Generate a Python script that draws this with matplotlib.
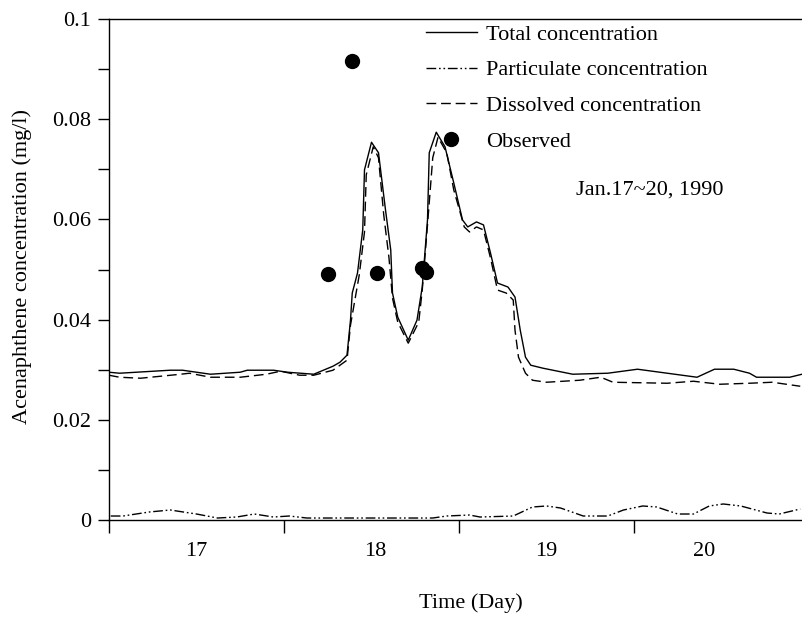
import matplotlib
matplotlib.use("Agg")
import matplotlib.pyplot as plt

plt.rcParams["font.family"] = ["Liberation Serif", "DejaVu Serif"]
plt.rcParams["font.size"] = 16

# Simulated total concentration (day, mg/l)
total_t = [16.50, 16.56, 16.85, 16.92, 17.08, 17.25, 17.29, 17.44, 17.52, 17.67,
           17.78, 17.82, 17.86, 17.88, 17.89, 17.92, 17.95, 17.96, 18.00, 18.04,
           18.08, 18.11, 18.12, 18.15, 18.21, 18.26, 18.29, 18.32, 18.33, 18.37,
           18.42, 18.47, 18.52, 18.55, 18.60, 18.64, 18.68, 18.72, 18.78, 18.82,
           18.85, 18.88, 18.91, 18.98, 19.15, 19.35, 19.52, 19.69, 19.86, 19.96,
           20.07, 20.16, 20.20, 20.39, 20.46]
total_c = [0.0295, 0.0293, 0.0299, 0.0299, 0.0291, 0.0295, 0.0299, 0.0299, 0.0295, 0.0291,
           0.0307, 0.0315, 0.0329, 0.0399, 0.0453, 0.0493, 0.0579, 0.0699, 0.0754, 0.0733,
           0.0619, 0.0539, 0.0453, 0.0405, 0.0359, 0.0399, 0.0465, 0.0599, 0.0733, 0.0774,
           0.0745, 0.0673, 0.0599, 0.0585, 0.0595, 0.0589, 0.0533, 0.0473, 0.0465, 0.0445,
           0.0379, 0.0325, 0.0309, 0.0303, 0.0291, 0.0293, 0.0301, 0.0293, 0.0285, 0.0301,
           0.0301, 0.0293, 0.0285, 0.0285, 0.0291]

# Simulated dissolved concentration
diss_t = [16.50, 16.56, 16.68, 16.91, 16.96, 17.08, 17.25, 17.40, 17.48, 17.59,
          17.67, 17.78, 17.86, 17.88, 17.91, 17.93, 17.96, 17.97, 18.01, 18.04,
          18.07, 18.10, 18.12, 18.15, 18.21, 18.27, 18.29, 18.32, 18.35, 18.38,
          18.43, 18.47, 18.53, 18.56, 18.60, 18.64, 18.68, 18.72, 18.77, 18.81,
          18.82, 18.84, 18.88, 18.92, 19.00, 19.19, 19.31, 19.38, 19.69, 19.84,
          19.99, 20.16, 20.29, 20.45]
diss_c = [0.0289, 0.0285, 0.0283, 0.0291, 0.0293, 0.0285, 0.0285, 0.0291, 0.0297, 0.0289,
          0.0289, 0.0299, 0.0319, 0.0389, 0.0449, 0.0489, 0.0575, 0.0689, 0.0745, 0.0723,
          0.0609, 0.0523, 0.0443, 0.0395, 0.0353, 0.0395, 0.0459, 0.0589, 0.0723, 0.0764,
          0.0733, 0.0659, 0.0585, 0.0575, 0.0585, 0.0579, 0.0523, 0.0459, 0.0453, 0.0439,
          0.0379, 0.0325, 0.0293, 0.0279, 0.0275, 0.0279, 0.0285, 0.0275, 0.0273, 0.0277,
          0.0271, 0.0273, 0.0275, 0.0267]

# Simulated particulate concentration
part_t = [16.51, 16.58, 16.73, 16.85, 17.00, 17.12, 17.23, 17.33, 17.44, 17.53,
          17.63, 18.35, 18.43, 18.56, 18.62, 18.81, 18.92, 19.00, 19.08, 19.21,
          19.35, 19.44, 19.55, 19.63, 19.75, 19.84, 19.93, 20.01, 20.11, 20.26,
          20.33, 20.45]
part_c = [0.0008, 0.0008, 0.0016, 0.0020, 0.0012, 0.0004, 0.0006, 0.0012, 0.0006, 0.0008,
          0.0004, 0.0004, 0.0008, 0.0010, 0.0006, 0.0008, 0.0026, 0.0028, 0.0024, 0.0008,
          0.0008, 0.0020, 0.0028, 0.0026, 0.0012, 0.0012, 0.0028, 0.0032, 0.0028, 0.0014,
          0.0012, 0.0022]

# Observed
obs_t = [17.75, 17.89, 18.03, 18.29, 18.31]
obs_c = [0.0491, 0.0916, 0.0493, 0.0503, 0.0495]

y_ticks = [0, 0.02, 0.04, 0.06, 0.08, 0.1]
y_labels = ["0", "0.02", "0.04", "0.06", "0.08", "0.1"]
x_major = [16.5, 17.5, 18.5, 19.5]
x_label_pos = [17.0, 18.02, 19.0, 19.9]
x_labels = ["17", "18", "19", "20"]

fig = plt.figure(figsize=(8.02, 6.19), dpi=100)
ax = fig.add_axes([0.1359, 0.1599, 0.8641, 0.8094])

ax.plot(total_t, total_c, color="black", lw=1.0, label="Total concentration")
ax.plot(part_t, part_c, color="black", lw=1.0, dashes=(7, 2, 1.2, 2, 1.2, 2),
        label="Particulate concentration")
ax.plot(diss_t, diss_c, color="black", lw=1.0, dashes=(7, 3.5),
        label="Dissolved concentration")
ax.plot(obs_t, obs_c, "o", color="black", ms=10, label="Observed")

ax.set_xlim(16.5, 20.46)
ax.set_ylim(0, 0.1)

ax.set_yticks(y_ticks)
ax.set_yticklabels(y_labels)
ax.set_yticks([0.01, 0.03, 0.05, 0.07, 0.09], minor=True)
ax.tick_params(axis="y", which="both", direction="out", length=8, width=1, pad=5)

ax.set_xticks(x_major)
ax.set_xticklabels([])
ax.set_xticks(x_label_pos, minor=True)
ax.set_xticklabels(x_labels, minor=True)
ax.tick_params(axis="x", which="major", direction="out", length=9, width=1)
ax.tick_params(axis="x", which="minor", length=0, pad=16)

ax.spines["right"].set_visible(False)
for s in ["left", "bottom", "top"]:
    ax.spines[s].set_linewidth(1.0)

leg = ax.legend(loc="upper left", bbox_to_anchor=(0.517, 0.979),
                bbox_transform=fig.transFigure, frameon=False, borderpad=0,
                handlelength=2.3, handletextpad=0.4, labelspacing=0.68,
                fontsize=16)

fig.text(650 / 802, 1 - 190 / 619, "Jan.17~20, 1990", ha="center", va="center", fontsize=16)
fig.text(471 / 802, 1 - 603 / 619, "Time (Day)", ha="center", va="center", fontsize=16)
fig.text(22 / 802, 1 - 267 / 619, "Acenaphthene concentration (mg/l)", ha="center",
         va="center", rotation=90, fontsize=16)

fig.savefig("out.png", dpi=100)
